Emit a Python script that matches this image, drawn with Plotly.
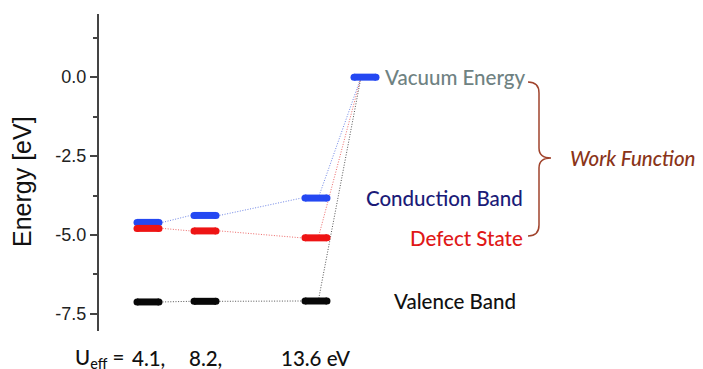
import plotly.graph_objects as go

# Band-edge energies (eV) for three Hubbard-U values
u_eff = [4.1, 8.2, 13.6]
conduction = [-4.60, -4.38, -3.83]
defect = [-4.79, -4.87, -5.09]
valence = [-7.12, -7.10, -7.09]
vacuum = 0.0

level_labels = ["Vacuum Energy", "Conduction Band", "Defect State", "Valence Band"]
y_ticks = [-7.5, -5.0, -2.5, 0.0]
y_minor = [1.25, -1.25, -3.75, -6.25]

# Layout geometry
W, H = 703, 369
ML, MR, MT, MB = 99, 0, 14, 38
col_x = [1.0, 2.0, 3.947]
vac_x = 4.807
x_range = [0.1404, 0.1404 + (W - ML - MR) / 57.0]
y_range = [-8.04, 2.0]
half = 0.193          # half length of a level bar (without round caps)
bar_w = 7

BLUE, RED, BLACK = "#2448f2", "#ee1414", "#080808"
BLUE_D, RED_D, BLACK_D = "#6f86e6", "#ee6a6a", "#555555"
BRACE = "#a0432c"
TEXT_FONT = "Lato"
TEXT_SIZE = 20.5
TEXT_WEIGHT = 500

fig = go.Figure()


def dotted(x0, y0, x1, y1, color):
    fig.add_trace(go.Scatter(x=[x0, x1], y=[y0, y1], mode="lines",
                             line=dict(color=color, width=1, dash="1px,1.6px"),
                             hoverinfo="skip", showlegend=False))


def bar(xc, yv, color):
    fig.add_trace(go.Scatter(x=[xc - half, xc + half], y=[yv, yv], mode="lines+markers",
                             line=dict(color=color, width=bar_w),
                             marker=dict(color=color, size=bar_w),
                             hoverinfo="skip", showlegend=False))


bar_end = half + 3.5 / 57.0
series = [(conduction, BLUE, BLUE_D), (defect, RED, RED_D), (valence, BLACK, BLACK_D)]

# dotted connectors between neighbouring columns and up to the vacuum level
for vals, _, dcol in series:
    for i in range(len(col_x) - 1):
        dotted(col_x[i] + bar_end, vals[i], col_x[i + 1] - bar_end, vals[i + 1], dcol)
    dotted(col_x[-1] + 0.04, vals[-1], vac_x - 0.07, vacuum, dcol)

# level bars
for vals, col, _ in series:
    for xc, v in zip(col_x, vals):
        bar(xc, v, col)
bar(vac_x, vacuum, BLUE)


def px_x(px):
    return x_range[0] + (px - ML) / 57.0


def px_paper(px):
    return (px - ML) / (W - ML - MR)


def py_y(py):
    ppu = (H - MT - MB) / (y_range[1] - y_range[0])
    return y_range[1] - (py - MT) / ppu


ann = []
lab_font = dict(family=TEXT_FONT, size=TEXT_SIZE, weight=TEXT_WEIGHT)
ann.append(dict(x=px_x(383), y=vacuum, text=level_labels[0], xanchor="left", yanchor="middle",
                font=dict(lab_font, color="#6f8282")))
ann.append(dict(x=px_x(525), y=conduction[-1], text=level_labels[1], xanchor="right", yanchor="middle",
                font=dict(lab_font, color="#1b1b78")))
ann.append(dict(x=px_x(525), y=defect[-1], text=level_labels[2], xanchor="right", yanchor="middle",
                font=dict(lab_font, color="#e01818")))
ann.append(dict(x=px_x(455), y=valence[-1], text=level_labels[3], xanchor="center", yanchor="middle",
                font=dict(lab_font, color="#111111")))
wf_y = (vacuum + defect[-1]) / 2
ann.append(dict(x=px_x(568), y=wf_y, text="<i>Work Function</i>", xanchor="left", yanchor="middle",
                font=dict(lab_font, color="#8a3418")))

# U_eff row under the plot
row_y = -(358 - (H - MB)) / (H - MT - MB)
ann.append(dict(x=px_paper(126), y=row_y, xref="paper", yref="paper", text="U<sub>eff</sub> =",
                xanchor="right", yanchor="middle", font=dict(lab_font, color="#111111")))
for i, (xc, u) in enumerate(zip(col_x, u_eff)):
    txt = f"{u}," if i < len(u_eff) - 1 else f"{u} eV"
    ann.append(dict(x=xc, y=row_y, xref="x", yref="paper", text=txt, xanchor="center",
                    yanchor="middle", font=dict(lab_font, color="#111111")))

# y-axis title
ann.append(dict(x=px_paper(22), y=(H - MB - 181) / (H - MT - MB), xref="paper", yref="paper",
                text="Energy [eV]", textangle=-90, xanchor="center", yanchor="middle",
                font=dict(family="Liberation Sans", size=25, color="#111111")))

for a in ann:
    a.setdefault("xref", "x")
    a.setdefault("yref", "y")
    a["showarrow"] = False
fig.update_layout(annotations=ann)

# curly brace spanning the work function
bx0, bx1, bx2 = px_x(528), px_x(539), px_x(551)
yt, yb, ym = py_y(82), py_y(236), py_y(158)
yt2, yb2 = py_y(93), py_y(225)
ym1, ym2 = py_y(148), py_y(168)
path = (f"M {bx0},{yt} Q {bx1},{yt} {bx1},{yt2} L {bx1},{ym1} Q {bx1},{ym} {bx2},{ym} "
        f"Q {bx1},{ym} {bx1},{ym2} L {bx1},{yb2} Q {bx1},{yb} {bx0},{yb}")
fig.add_shape(type="path", path=path, xref="x", yref="y", line=dict(color=BRACE, width=1.5))

fig.update_layout(
    width=W, height=H,
    margin=dict(l=ML, r=MR, t=MT, b=MB, pad=0),
    paper_bgcolor="white", plot_bgcolor="white",
    showlegend=False,
    xaxis=dict(range=x_range, visible=False, showgrid=False, zeroline=False),
    yaxis=dict(range=y_range, tickmode="array", tickvals=y_ticks,
               ticktext=[f"{v:.1f}" for v in y_ticks],
               ticks="outside", ticklen=7, tickwidth=1.5, tickcolor="#444444",
               showline=True, linecolor="#444444", linewidth=2,
               showgrid=False, zeroline=False,
               tickfont=dict(family="Liberation Sans", size=18, color="#222222"),
               minor=dict(tickmode="array", tickvals=y_minor, ticks="outside", ticklen=4,
                          tickwidth=1.5, tickcolor="#444444", showgrid=False)),
)

fig.write_html("out.html")
